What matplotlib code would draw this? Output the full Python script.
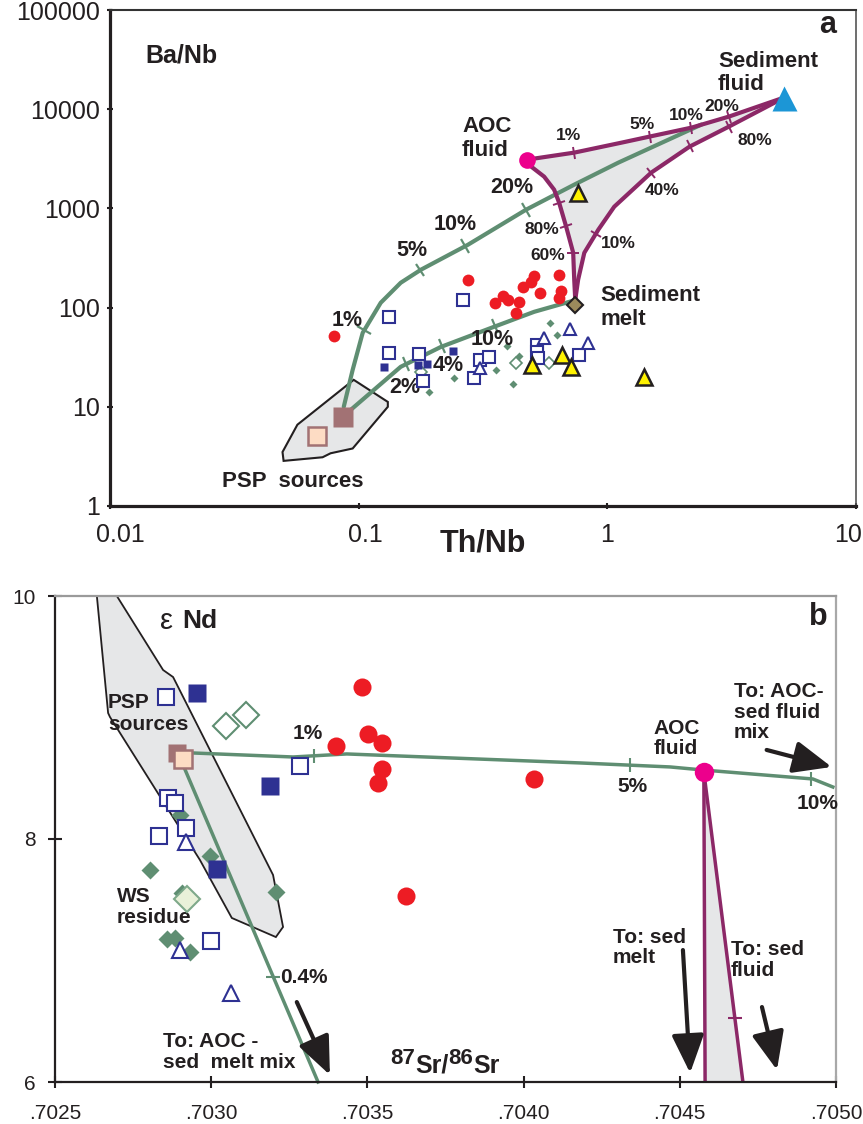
import numpy as np
import matplotlib
matplotlib.use('Agg')
import matplotlib.pyplot as plt
import matplotlib.transforms as mtransforms
from matplotlib.markers import MarkerStyle
from matplotlib.transforms import Affine2D

plt.rcParams['font.family'] = ['Liberation Sans', 'DejaVu Sans']
plt.rcParams['mathtext.fontset'] = 'custom'
plt.rcParams['mathtext.rm'] = 'Liberation Sans'
plt.rcParams['mathtext.bf'] = 'Liberation Sans:bold'

INK = '#231f20'
GREEN = '#5f8e72'
PURPLE = '#8c2867'
GREY_FILL = '#e6e7e8'
RED = '#ed1c24'
NAVY = '#2e3192'
YELLOW = '#fff200'
MAGENTA = '#ec008c'
SKY = '#1c96d6'
MAUVE = '#a27274'
PEACH = '#fddcc4'
OLIVE = '#9c8a5c'

# ---------------- panel a : Ba/Nb vs Th/Nb ----------------
psp_poly_a_x = [0.0494, 0.0567, 0.0955, 0.131, 0.131, 0.0946, 0.0771, 0.0716, 0.0499]
psp_poly_a_y = [3.5, 6.6, 18.7, 11.2, 10.0, 3.8, 3.4, 3.1, 2.85]
psp_dark_a = (0.0861, 7.9)
psp_light_a = (0.0678, 5.1)
aoc_fluid_a = (0.475, 3100)
sed_fluid_a = (5.13, 13100)
sed_melt_a = (0.743, 107)

# mixing curves
mix_fluid_x = [0.0871, 0.0946, 0.1038, 0.1227, 0.1476, 0.178, 0.275, 0.471, 0.736, 1.107, 2.39]
mix_fluid_y = [10, 23.6, 55.7, 112, 178, 241, 430, 970, 1735, 2892, 7000]
mix_melt_x = [0.0861, 0.1476, 0.2144, 0.350, 0.508, 0.735]
mix_melt_y = [7.9, 25.3, 40.2, 64, 90.7, 118]
aoc_sedfl_x = [0.475, 0.736, 1.14, 1.476, 2.18, 3.08, 5.13]
aoc_sedfl_y = [3100, 3650, 4600, 5290, 6520, 8420, 13100]
sedfl_melt_x = [5.13, 4.71, 3.08, 2.14, 1.50, 1.066, 0.920, 0.808, 0.763, 0.743]
sedfl_melt_y = [13100, 11660, 6670, 4190, 2290, 1040, 610, 357, 191, 120]
aoc_melt_x = [0.475, 0.494, 0.557, 0.611, 0.640, 0.683, 0.729, 0.736, 0.743]
aoc_melt_y = [3100, 2640, 2090, 1545, 1142, 654, 357, 191, 120]

# tick marks on the curves (% added)
tk_fluid = [(0.1047, 59.7), (0.1746, 252), (0.2624, 461), (0.475, 926)]
tk_melt = [(0.158, 24.7), (0.220, 37.5), (0.356, 62.5)]
tk_aoc_sedfl = [(0.736, 3650), (1.48, 5290), (2.18, 6520), (3.08, 8600)]
tk_sedfl_melt = [(3.08, 6700), (2.15, 4280), (1.50, 2290), (0.904, 543)]
tk_aoc_melt = [(0.645, 1142), (0.697, 669), (0.736, 357)]

red_a_x = [0.0793, 0.275, 0.353, 0.381, 0.399, 0.442, 0.429, 0.458, 0.494, 0.508, 0.537, 0.640, 0.653, 0.640]
red_a_y = [51.9, 191, 112, 131, 120, 114, 88.6, 162, 182, 209, 141, 214, 148, 126]
sq_open_a_x = [0.262, 0.132, 0.133, 0.175, 0.181, 0.291, 0.308, 0.334, 0.522, 0.522, 0.527, 0.771]
sq_open_a_y = [120, 80.8, 35, 34.2, 18.3, 19.6, 29.7, 31.9, 42.1, 35.8, 31.1, 33.4]
sq_fill_a_x = [0.127, 0.173, 0.188, 0.239]
sq_fill_a_y = [25.3, 26.5, 27.1, 36.7]
tri_open_a_x = [0.557, 0.710, 0.838, 0.308]
tri_open_a_y = [49.6, 61.1, 44.1, 24.7]
tri_yel_a_x = [0.763, 0.499, 0.659, 0.716, 1.41]
tri_yel_a_y = [1440, 26.5, 33.4, 25.3, 20.0]
dia_fill_a_x = [0.589, 0.628, 0.395, 0.442, 0.356, 0.418, 0.241, 0.191]
dia_fill_a_y = [70.3, 53.2, 41.2, 32.6, 23.6, 17.0, 19.6, 14.1]
dia_open_a_x = [0.429, 0.583, 0.178]
dia_open_a_y = [27.7, 27.7, 22.5]

# ---------------- panel b : eNd vs 87Sr/86Sr ----------------
psp_poly_b_x = [0.702634, 0.702698, 0.702846, 0.702878, 0.703198, 0.703230, 0.703207,
                0.703066, 0.702964, 0.702676, 0.702670]
psp_poly_b_y = [10.0, 10.0, 9.391, 9.333, 7.704, 7.276, 7.193, 7.350, 7.827, 9.004, 9.037]
psp_dark_b = (0.702890, 8.708)
psp_light_b = (0.702910, 8.658)
aoc_fluid_b = (0.704577, 8.551)

mix_h_x = [0.702942, 0.703262, 0.703434, 0.704181, 0.704469, 0.704574, 0.704926, 0.704990]
mix_h_y = [8.708, 8.675, 8.700, 8.626, 8.593, 8.568, 8.494, 8.428]
mix_s_x = [0.702910, 0.703342]
mix_s_y = [8.609, 6.0]
sedmelt_line_x = [0.704577, 0.704581]
sedmelt_line_y = [8.551, 6.0]
sedfl_line_x = [0.704577, 0.704702]
sedfl_line_y = [8.551, 6.0]
tk_h_x = [0.703329, 0.704340, 0.704920]
tk_s_y = 6.864
tk_sedfl_y = 6.527

red_b_x = [0.703483, 0.703399, 0.703502, 0.703546, 0.703546, 0.703534, 0.704033, 0.703623]
red_b_y = [9.251, 8.765, 8.864, 8.790, 8.576, 8.461, 8.494, 7.531]
sq_open_b_x = [0.702855, 0.702862, 0.702884, 0.702833, 0.702919, 0.703284, 0.703000]
sq_open_b_y = [9.169, 8.337, 8.296, 8.025, 8.091, 8.601, 7.160]
sq_fill_b_x = [0.702954, 0.703188, 0.703018]
sq_fill_b_y = [9.202, 8.436, 7.753]
tri_open_b_x = [0.702919, 0.702900, 0.703063]
tri_open_b_y = [7.975, 7.086, 6.733]
dia_fill_b_x = [0.702900, 0.702996, 0.702804, 0.702906, 0.703207, 0.702858, 0.702884, 0.702932]
dia_fill_b_y = [8.198, 7.860, 7.745, 7.556, 7.564, 7.177, 7.185, 7.070]
dia_open_b_x = [0.703047, 0.703111]
dia_open_b_y = [8.930, 9.021]
ws_residue_b = (0.702922, 7.506)

arrows_b = [((0.704778, 8.733), (0.704986, 8.593)),
            ((0.703274, 6.658), (0.703380, 6.058)),
            ((0.704510, 7.086), (0.704533, 6.074)),
            ((0.704763, 6.617), (0.704811, 6.099))]


def curve_ticks(ax, cx, cy, pts, color, size, lw, z):
    disp = ax.transData.transform(np.column_stack([cx, cy]))
    inv = ax.transData.inverted()
    for p in ax.transData.transform(np.array(pts)):
        best = None
        for a, b in zip(disp[:-1], disp[1:]):
            d = b - a
            t = np.clip(np.dot(p - a, d) / np.dot(d, d), 0, 1)
            q = a + t * d
            dist = np.hypot(*(p - q))
            if best is None or dist < best[0]:
                best = (dist, q, d)
        _, q, d = best
        ang = np.degrees(np.arctan2(d[1], d[0]))
        qx, qy = inv.transform(q)
        m = MarkerStyle('|', transform=Affine2D().rotate_deg(ang))
        ax.plot([qx], [qy], ls='none', marker=m, ms=size, mew=lw, color=color, zorder=z)


fig = plt.figure(figsize=(8.63, 11.24), dpi=100)
ax_a = fig.add_axes([110 / 863, 1 - 506 / 1124, 746 / 863, 496 / 1124])
ax_b = fig.add_axes([55 / 863, 1 - 1082 / 1124, 781 / 863, 486 / 1124])

# ---- panel a ----
ax = ax_a
ax.set_xscale('log')
ax.set_yscale('log')
ax.set_xlim(0.01, 10)
ax.set_ylim(1, 1e5)
ax.minorticks_off()
ax.set_xticks([0.01, 0.1, 1, 10])
ax.set_xticklabels(['0.01', '0.1', '1', '10'])
ax.set_yticks([1, 10, 100, 1000, 1e4, 1e5])
ax.set_yticklabels(['1', '10', '100', '1000', '10000', '100000'])
ax.tick_params(axis='both', direction='inout', length=5, width=1.5, colors=INK, labelsize=18)
ax.tick_params(axis='y', pad=4.5)
ax.tick_params(axis='x', pad=10)
# the printed labels sit a little off their ticks
for lab, dx in zip(ax.get_xticklabels(), [10, 7, 0, -8]):
    lab.set_transform(lab.get_transform() + mtransforms.ScaledTranslation(dx / 100, 0, fig.dpi_scale_trans))
for s, w, c in [('left', 2.3, INK), ('bottom', 2.3, INK), ('top', 1.5, '#333333'), ('right', 1.2, '#555555')]:
    ax.spines[s].set_linewidth(w)
    ax.spines[s].set_color(c)

ax.fill(psp_poly_a_x, psp_poly_a_y, facecolor=GREY_FILL, edgecolor=INK, lw=1.5, zorder=1)
tri_x = aoc_sedfl_x + sedfl_melt_x + aoc_melt_x[::-1]
tri_y = aoc_sedfl_y + sedfl_melt_y + aoc_melt_y[::-1]
ax.fill(tri_x, tri_y, facecolor=GREY_FILL, edgecolor='none', zorder=1)

ax.plot(mix_fluid_x, mix_fluid_y, color=GREEN, lw=3, zorder=2, solid_capstyle='round')
ax.plot(mix_melt_x, mix_melt_y, color=GREEN, lw=3, zorder=2, solid_capstyle='round')
for cx, cy in [(aoc_sedfl_x, aoc_sedfl_y), (sedfl_melt_x, sedfl_melt_y), (aoc_melt_x, aoc_melt_y)]:
    ax.plot(cx, cy, color=PURPLE, lw=3, zorder=2.5, solid_capstyle='round', solid_joinstyle='round')

curve_ticks(ax, mix_fluid_x, mix_fluid_y, tk_fluid, GREEN, 11, 1.6, 2.2)
curve_ticks(ax, mix_melt_x, mix_melt_y, tk_melt, GREEN, 11, 1.6, 2.2)
curve_ticks(ax, aoc_sedfl_x, aoc_sedfl_y, tk_aoc_sedfl, PURPLE, 9, 1.4, 2.6)
curve_ticks(ax, sedfl_melt_x, sedfl_melt_y, tk_sedfl_melt, PURPLE, 9, 1.4, 2.6)
curve_ticks(ax, aoc_melt_x, aoc_melt_y, tk_aoc_melt, PURPLE, 9, 1.4, 2.6)

ax.plot(dia_fill_a_x, dia_fill_a_y, 'D', ms=4.5, color=GREEN, mec='none', zorder=3)
ax.plot(dia_open_a_x, dia_open_a_y, 'D', ms=6, mfc='white', mec=GREEN, mew=1.2, zorder=3)
ax.plot(red_a_x, red_a_y, 'o', ms=8.5, color=RED, mec='none', zorder=3)
ax.plot(sq_open_a_x, sq_open_a_y, 's', ms=8.5, mfc='white', mec=NAVY, mew=1.5, zorder=3.2)
ax.plot(sq_fill_a_x, sq_fill_a_y, 's', ms=5.5, color=NAVY, mec='none', zorder=3.2)
ax.plot(tri_open_a_x, tri_open_a_y, '^', ms=9, mfc='white', mec=NAVY, mew=1.5, zorder=3.2)
ax.plot(tri_yel_a_x, tri_yel_a_y, '^', ms=11, mfc=YELLOW, mec=INK, mew=1.8, zorder=3.4)
ax.plot(*psp_dark_a, 's', ms=14, color=MAUVE, mec='none', zorder=4)
ax.plot(*psp_light_a, 's', ms=13, mfc=PEACH, mec=MAUVE, mew=1.8, zorder=4)
ax.plot(*aoc_fluid_a, 'o', ms=12, color=MAGENTA, mec='none', zorder=4)
ax.plot(*sed_fluid_a, '^', ms=18, color=SKY, mec='none', zorder=4)
ax.plot(*sed_melt_a, 'D', ms=8.5, mfc=OLIVE, mec=INK, mew=1.5, zorder=4)

T = ax.transAxes
kw = dict(transform=T, color=INK, fontweight='bold')
ax.text(0.047, 0.909, 'Ba/Nb', fontsize=18, ha='left', va='center', **kw)
ax.text(0.9625, 0.970, 'a', fontsize=22, ha='center', va='center', **kw)
ax.text(0.815, 0.873, 'Sediment\nfluid', fontsize=16, ha='left', va='center', linespacing=1.15, **kw)
ax.text(0.472, 0.741, 'AOC\nfluid', fontsize=16, ha='left', va='center', linespacing=1.15, **kw)
ax.text(0.657, 0.400, 'Sediment\nmelt', fontsize=16, ha='left', va='center', linespacing=1.15, **kw)
ax.text(0.245, 0.050, 'PSP  sources', fontsize=16, ha='center', va='center', **kw)
for lab, fx, fy in [('1%', 0.318, 0.373), ('5%', 0.405, 0.516), ('10%', 0.4625, 0.567),
                    ('20%', 0.539, 0.643), ('2%', 0.395, 0.238), ('4%', 0.454, 0.284),
                    ('10%', 0.512, 0.335)]:
    ax.text(fx, fy, lab, fontsize=15.5, ha='center', va='center', **kw)
for lab, fx, fy in [('1%', 0.614, 0.746), ('5%', 0.713, 0.770), ('10%', 0.773, 0.788),
                    ('20%', 0.820, 0.806), ('80%', 0.865, 0.736), ('40%', 0.740, 0.637),
                    ('10%', 0.682, 0.530), ('80%', 0.579, 0.558), ('60%', 0.587, 0.506)]:
    ax.text(fx, fy, lab, fontsize=12.5, ha='center', va='center', **kw)
fig.text(483 / 863, 1 - 543 / 1124, 'Th/Nb', fontsize=22, fontweight='bold', color=INK,
         ha='center', va='center')

# ---- panel b ----
ax = ax_b
ax.set_xlim(0.7025, 0.7050)
ax.set_ylim(6, 10)
xt = [0.7025, 0.7030, 0.7035, 0.7040, 0.7045, 0.7050]
ax.set_xticks(xt)
ax.set_xticklabels([f'{v:.4f}'[1:] for v in xt])
ax.set_yticks([6, 8, 10])
ax.set_yticklabels(['6', '8', '10'])
ax.tick_params(axis='both', direction='inout', width=1.5, colors=INK, labelsize=15)
ax.tick_params(axis='x', length=8, pad=12)
ax.tick_params(axis='y', length=10, pad=9)
for s, w, c in [('left', 1.6, INK), ('bottom', 1.6, INK), ('top', 1.6, '#9a9a9a'), ('right', 1.6, '#a8a8a8')]:
    ax.spines[s].set_linewidth(w)
    ax.spines[s].set_color(c)

ax.fill(psp_poly_b_x, psp_poly_b_y, facecolor=GREY_FILL, edgecolor=INK, lw=1.3, zorder=1)
ax.fill([sedmelt_line_x[0], sedmelt_line_x[1], sedfl_line_x[1]],
        [sedmelt_line_y[0], sedmelt_line_y[1], sedfl_line_y[1]],
        facecolor=GREY_FILL, edgecolor='none', zorder=1)
ax.plot(mix_h_x, mix_h_y, color=GREEN, lw=2.5, zorder=2)
ax.plot(mix_s_x, mix_s_y, color=GREEN, lw=2.5, zorder=2, clip_on=False)
ax.plot(sedmelt_line_x, sedmelt_line_y, color=PURPLE, lw=2.5, zorder=2.5)
ax.plot(sedfl_line_x, sedfl_line_y, color=PURPLE, lw=2.5, zorder=2.5)
ax.plot(tk_h_x, np.interp(tk_h_x, mix_h_x, mix_h_y), ls='none', marker='|', ms=10,
        mew=1.5, color=GREEN, zorder=2.2)
ax.plot([np.interp(tk_s_y, mix_s_y[::-1], mix_s_x[::-1])], [tk_s_y], ls='none', marker='_',
        ms=10, mew=1.5, color=GREEN, zorder=2.2)
ax.plot([np.interp(tk_sedfl_y, sedfl_line_y[::-1], sedfl_line_x[::-1])], [tk_sedfl_y],
        ls='none', marker='_', ms=10, mew=1.5, color=PURPLE, zorder=2.6)

ax.plot(dia_fill_b_x, dia_fill_b_y, 'D', ms=9.5, color=GREEN, mec='none', zorder=3)
ax.plot(dia_open_b_x, dia_open_b_y, 'D', ms=13, mfc='white', mec=GREEN, mew=1.5, zorder=3)
ax.plot(*ws_residue_b, 'D', ms=13, mfc='#e9f1d9', mec='#7ea98a', mew=1.5, zorder=3.1)
ax.plot(red_b_x, red_b_y, 'o', ms=13, color=RED, mec='none', zorder=3)
ax.plot(sq_open_b_x, sq_open_b_y, 's', ms=11.5, mfc='white', mec=NAVY, mew=1.5, zorder=3.2)
ax.plot(sq_fill_b_x, sq_fill_b_y, 's', ms=13, color=NAVY, mec='none', zorder=3.2)
ax.plot(tri_open_b_x, tri_open_b_y, '^', ms=12, mfc='white', mec=NAVY, mew=1.5, zorder=3.2)
ax.plot(*psp_dark_b, 's', ms=13.5, color=MAUVE, mec='none', zorder=4)
ax.plot(*psp_light_b, 's', ms=13, mfc=PEACH, mec=MAUVE, mew=1.8, zorder=4)
ax.plot(*aoc_fluid_b, 'o', ms=14, color=MAGENTA, mec='none', zorder=4)

for start, end in arrows_b:
    ax.annotate('', xy=end, xytext=start,
                arrowprops=dict(arrowstyle='-|>,head_length=1.3,head_width=0.55', lw=3,
                                color=INK, shrinkA=0, shrinkB=0, mutation_scale=18))

T = ax.transAxes
kw = dict(transform=T, color=INK, fontweight='bold')
ax.text(0.1434, 0.9486, '\u03b5', fontsize=21, ha='center', va='center', transform=T, color=INK)
ax.text(0.1626, 0.9486, 'Nd', fontsize=19, ha='left', va='center', **kw)
ax.text(0.977, 0.957, 'b', fontsize=22, ha='center', va='center', **kw)
ax.text(0.0679, 0.758, 'PSP\nsources', fontsize=15, ha='left', va='center', linespacing=1.15, **kw)
ax.text(0.0794, 0.360, 'WS\nresidue', fontsize=15, ha='left', va='center', linespacing=1.15, **kw)
ax.text(0.1383, 0.0617, 'To: AOC -\nsed  melt mix', fontsize=15, ha='left', va='center',
        linespacing=1.1, **kw)
ax.text(0.766, 0.707, 'AOC\nfluid', fontsize=15, ha='left', va='center', linespacing=1.1, **kw)
ax.text(0.869, 0.761, 'To: AOC-\nsed fluid\nmix', fontsize=15, ha='left', va='center',
        linespacing=1.1, **kw)
ax.text(0.7145, 0.277, 'To: sed\nmelt', fontsize=15, ha='left', va='center', linespacing=1.1, **kw)
ax.text(0.8656, 0.251, 'To: sed\nfluid', fontsize=15, ha='left', va='center', linespacing=1.1, **kw)
for lab, fx, fy in [('1%', 0.324, 0.718), ('5%', 0.740, 0.607), ('10%', 0.977, 0.574)]:
    ax.text(fx, fy, lab, fontsize=15, ha='center', va='center', **kw)
ax.text(0.288, 0.216, '0.4%', fontsize=15, ha='left', va='center', **kw)

# 87Sr/86Sr axis label, built from pieces
t1 = ax.text(0.429, 0.026, '87', fontsize=16, ha='left', va='bottom', **kw)
t2 = ax.annotate('Sr/', xy=(1, 0), xycoords=t1, xytext=(0, -6), textcoords='offset points',
                 fontsize=18, fontweight='bold', color=INK, ha='left', va='bottom')
t3 = ax.annotate('86', xy=(1, 0), xycoords=t2, xytext=(0, 6), textcoords='offset points',
                 fontsize=16, fontweight='bold', color=INK, ha='left', va='bottom')
ax.annotate('Sr', xy=(1, 0), xycoords=t3, xytext=(0, -6), textcoords='offset points',
            fontsize=18, fontweight='bold', color=INK, ha='left', va='bottom')

fig.savefig('out.png', dpi=100)
